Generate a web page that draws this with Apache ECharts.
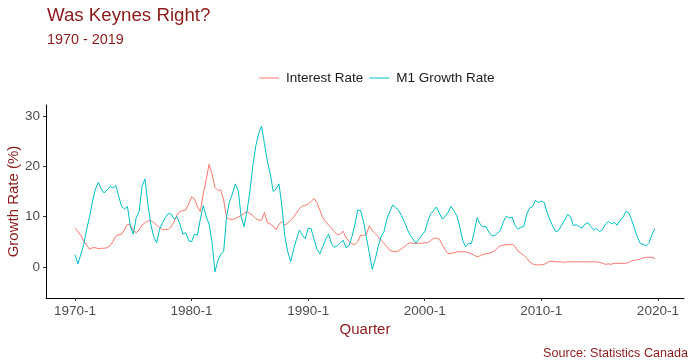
<!DOCTYPE html>
<html>
<head>
<meta charset="utf-8">
<script src="https://cdn.jsdelivr.net/npm/echarts@6/dist/echarts.min.js"></script>
<style>html,body{margin:0;padding:0;background:#fff}#c{width:693px;height:364px}</style>
</head>
<body>
<div id="c"></div>
<script>
const startYear = 1970;
const seriesNames = ["Interest Rate", "M1 Growth Rate"];
const xTickYears = [1970, 1980, 1990, 2000, 2010, 2020];
const yTicks = [0, 10, 20, 30];
const interestRate = [
7.7,7,6.2,5.1,4.3,3.5,3.8,3.8,3.6,3.7,3.7,3.8,4.2,5,6.1,6.4,6.5,7.4,8.5,8.3,
7.2,6.8,7.3,8.3,8.8,9.1,9.2,8.8,8.3,7.8,7.4,7.4,7.5,8,9,10.3,11,11.2,11.3,12.5,
13.9,13.5,12,11,14.5,17.3,20.4,18.5,15.8,15.2,15.3,13.3,9.8,9.5,9.4,9.6,9.9,10.2,10.6,11,
10.6,10.2,9.6,9.3,9.3,10.8,8.8,8.5,8.1,7.4,8.5,9,8.3,8.7,9.3,9.9,10.7,11.6,12.1,12.2,
12.5,13,13.6,12.8,11.3,9.8,9,8.3,7.7,7,6.4,6.5,7.1,5.8,5,4.6,4.4,5,6.3,6.2,
6.5,8.2,7.2,6.6,6,5.3,4.7,4,3.3,3.1,3,3.2,3.6,4,4.5,4.8,4.7,4.6,4.7,4.7,
4.8,4.8,5.2,5.7,5.7,5.5,4.5,3.4,2.6,2.7,2.8,3,3,3,3,2.8,2.6,2.3,2,2.2,
2.5,2.6,2.7,2.9,3.2,3.8,4.2,4.3,4.4,4.4,4.5,4,3.1,2.7,2.3,1.7,1,0.6,0.4,0.4,
0.4,0.5,0.8,1.1,1.1,1,1,1,0.9,1,1,1,1,1,1,1,1,1,1,1,
0.9,0.7,0.5,0.6,0.5,0.7,0.7,0.7,0.7,0.7,0.9,1.2,1.3,1.4,1.6,1.8,1.9,1.9,1.9,1.6
];
const m1Growth = [
2.4,0.6,2.5,4.5,7.5,10,13,15.5,16.8,15.5,14.7,15.3,16,15.7,16.2,14,12,11.5,12,8,
6.5,9.8,11,16,17.5,12.5,8.5,6,4.8,7.5,8.7,9.8,10.6,10.5,9.5,10,8.5,6.5,6.8,5.2,
5,6.5,6.3,9.5,12.2,10,8.5,5,-1,1.2,2.5,3,10,13,14.5,16.5,15.2,10,8,11,
15,20,24,26.5,28,24.5,21,18.5,15,15.5,16.5,12,6,3,1,3.5,5.5,7.3,6.3,5.6,
7.7,7.6,5.5,3.5,2.6,4,5.5,6.5,4.6,3.9,4.2,4.7,5.3,3.8,4.2,6,8.3,11.3,11.2,9,
5.8,2.7,-0.5,1.5,4,6,7,9.5,11,12.3,11.8,11.3,10.2,9,7.5,6.3,5.5,4.7,5.5,6.3,
7,9,10.5,11.2,11.9,10.7,9.5,10,10.8,12,11.2,10.2,8,5.3,4,4.7,4.6,7,9.8,8.5,
8,8,6.9,6.2,6.2,6.7,7.3,9,10.1,9.7,9.9,8.2,7.5,7.9,8,10.5,11.7,12,13.2,12.8,
13.1,12.8,10.8,9.3,8,7,7.3,8.3,9.3,10.4,10,8.2,8.4,8,7.7,8.5,8.8,8,7.4,7.6,
7,7.4,8.5,9,8.6,8.8,8.3,9.3,9.8,11,10.8,9.3,7.6,5.8,4.6,4.5,4.2,4.8,6.5,7.6
];

const toPairs = arr => arr.map((v, i) => [startYear + i / 4, v]);
const darkRed = '#8B1A1A';
const font = 'Liberation Sans, Arial, sans-serif';

const chart = echarts.init(document.getElementById('c'), null, {renderer: 'canvas'});
chart.setOption({
  backgroundColor: '#ffffff',
  animation: false,
  textStyle: {fontFamily: font},
  title: [
    {text: 'Was Keynes Right?', left: 42, top: 1, padding: 5, textStyle: {color: darkRed, fontSize: 18.7, fontWeight: 'normal', fontFamily: font}},
    {text: '1970 - 2019', left: 42, top: 28, padding: 5, textStyle: {color: darkRed, fontSize: 14.4, fontWeight: 'normal', fontFamily: font}},
    {text: 'Source: Statistics Canada', right: 0, top: 342, padding: 5, textStyle: {color: darkRed, fontSize: 12.6, fontWeight: 'normal', fontFamily: font}}
  ],
  legend: {
    data: seriesNames,
    top: 66, left: 254,
    icon: 'rect', itemWidth: 20, itemHeight: 1, itemGap: 6,
    textStyle: {color: '#1a1a1a', fontSize: 13.5, fontFamily: font, padding: [0, 0, 0, 2]}
  },
  grid: {left: 46, right: 9, top: 105, bottom: 66, containLabel: false, outerBoundsMode: 'none'},
  xAxis: {
    type: 'value', min: 1967.51, max: 2022.24,
    name: 'Quarter', nameLocation: 'middle', nameGap: 24, nameMoveOverlap: false,
    nameTextStyle: {color: darkRed, fontSize: 15, fontFamily: font},
    axisLine: {onZero: false, lineStyle: {color: '#000', width: 1}},
    axisTick: {show: true, length: 3, customValues: xTickYears, lineStyle: {color: '#333'}},
    axisLabel: {customValues: xTickYears, color: '#4d4d4d', fontSize: 13.5, margin: 6, formatter: v => v + '-1'},
    splitLine: {show: false}
  },
  yAxis: {
    type: 'value', min: -6.2, max: 32.2,
    name: 'Growth Rate (%)', nameLocation: 'middle', nameGap: 25, nameRotate: 90, nameMoveOverlap: false,
    nameTextStyle: {color: darkRed, fontSize: 15, fontFamily: font},
    axisLine: {show: true, onZero: false, lineStyle: {color: '#000', width: 1}},
    axisTick: {show: true, length: 3, customValues: yTicks, lineStyle: {color: '#333'}},
    axisLabel: {customValues: yTicks, color: '#4d4d4d', fontSize: 13.5, margin: 6},
    splitLine: {show: false}
  },
  series: [
    {name: seriesNames[0], type: 'line', data: toPairs(interestRate), showSymbol: false, symbol: 'none',
     lineStyle: {color: '#F8766D', width: 1}, itemStyle: {color: '#F8766D'}},
    {name: seriesNames[1], type: 'line', data: toPairs(m1Growth), showSymbol: false, symbol: 'none',
     lineStyle: {color: '#00BFC4', width: 1}, itemStyle: {color: '#00BFC4'}}
  ]
});
</script>
</body>
</html>
